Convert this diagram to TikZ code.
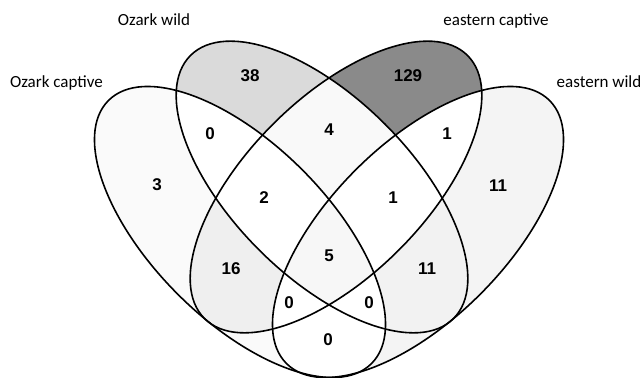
\documentclass[tikz,border=0pt]{standalone}
\usepackage{fontspec}
\setmainfont{Carlito}
\newfontfamily\numfont{Liberation Sans}
\definecolor{fillA}{HTML}{FAFAFA}
\definecolor{fillB}{HTML}{DADADA}
\definecolor{fillC}{HTML}{8A8A8A}
\definecolor{fillD}{HTML}{F4F4F4}
\definecolor{fillAC}{HTML}{EFEFEF}
\definecolor{fillBD}{HTML}{F2F2F2}
\definecolor{fillBC}{HTML}{F9F9F9}
\definecolor{fillAll}{HTML}{F7F7F7}
\tikzset{
  eA/.style={rotate around={-45:(240,145)}},
  eB/.style={rotate around={-45:(322,190)}},
  eC/.style={rotate around={45:(336,190)}},
  eD/.style={rotate around={45:(418,145)}},
  outline/.style={draw=black, line width=1.6pt},
  num/.style={font=\numfont\bfseries\fontsize{17}{19}\selectfont, inner sep=0pt, anchor=center},
  setlabel/.style={font=\fontsize{17}{20}\selectfont, inner sep=0pt, anchor=base}
}
\newcommand\pA{(240,145) ellipse [x radius=186, y radius=88]}
\newcommand\pB{(322,190) ellipse [x radius=186, y radius=89]}
\newcommand\pC{(336,190) ellipse [x radius=186, y radius=89]}
\newcommand\pD{(418,145) ellipse [x radius=186, y radius=88]}
\begin{document}
\begin{tikzpicture}[x=1pt,y=1pt]
\useasboundingbox (0,0) rectangle (644,377);
\fill[white] (0,0) rectangle (644,377);
% single sets
\fill[fillA,eA] \pA;
\fill[fillD,eD] \pD;
\fill[fillB,eB] \pB;
\fill[fillC,eC] \pC;
% pairwise white
\begin{scope}\clip[eA] \pA; \fill[white,eB] \pB; \fill[white,eC] \pC; \fill[white,eD] \pD; \end{scope}
\begin{scope}\clip[eB] \pB; \fill[white,eC] \pC; \fill[white,eD] \pD; \end{scope}
\begin{scope}\clip[eC] \pC; \fill[white,eD] \pD; \end{scope}
% tinted pairs
\begin{scope}\clip[eA] \pA; \fill[fillAC,eC] \pC; \end{scope}
\begin{scope}\clip[eB] \pB; \fill[fillBD,eD] \pD; \end{scope}
\begin{scope}\clip[eB] \pB; \fill[fillBC,eC] \pC; \end{scope}
% triples white
\begin{scope}\clip[eA] \pA; \clip[eB] \pB; \fill[white,eC] \pC; \fill[white,eD] \pD; \end{scope}
\begin{scope}\clip[eA] \pA; \clip[eC] \pC; \fill[white,eD] \pD; \end{scope}
\begin{scope}\clip[eB] \pB; \clip[eC] \pC; \fill[white,eD] \pD; \end{scope}
% all four
\begin{scope}\clip[eA] \pA; \clip[eB] \pB; \clip[eC] \pC; \fill[fillAll,eD] \pD; \end{scope}
% outlines
\draw[outline,eA] \pA;
\draw[outline,eB] \pB;
\draw[outline,eC] \pC;
\draw[outline,eD] \pD;
% set labels
\node[setlabel] (lOW) at (154,351) {Ozark wild};
\node[setlabel] (lOC) at (56.5,289) {Ozark captive};
\node[setlabel] (lEC) at (496,351) {eastern captive};
\node[setlabel] (lEW) at (599,289) {eastern wild};
% counts
\node[num] (n38) at (250,301) {38};
\node[num] (n129) at (408,301) {129};
\node[num] (nAB) at (210,243) {0};
\node[num] (n3) at (157,192) {3};
\node[num] (nBC) at (329,247) {4};
\node[num] (nCD) at (447,243) {1};
\node[num] (nD) at (498,191) {11};
\node[num] (nABC) at (264,179) {2};
\node[num] (nBCD) at (393,179) {1};
\node[num] (nAll) at (329,121) {5};
\node[num] (nAC) at (231,108) {16};
\node[num] (nBD) at (427,108) {11};
\node[num] (nACD) at (289,74) {0};
\node[num] (nABD) at (369,74) {0};
\node[num] (nAD) at (328,37) {0};
\end{tikzpicture}
\end{document}
